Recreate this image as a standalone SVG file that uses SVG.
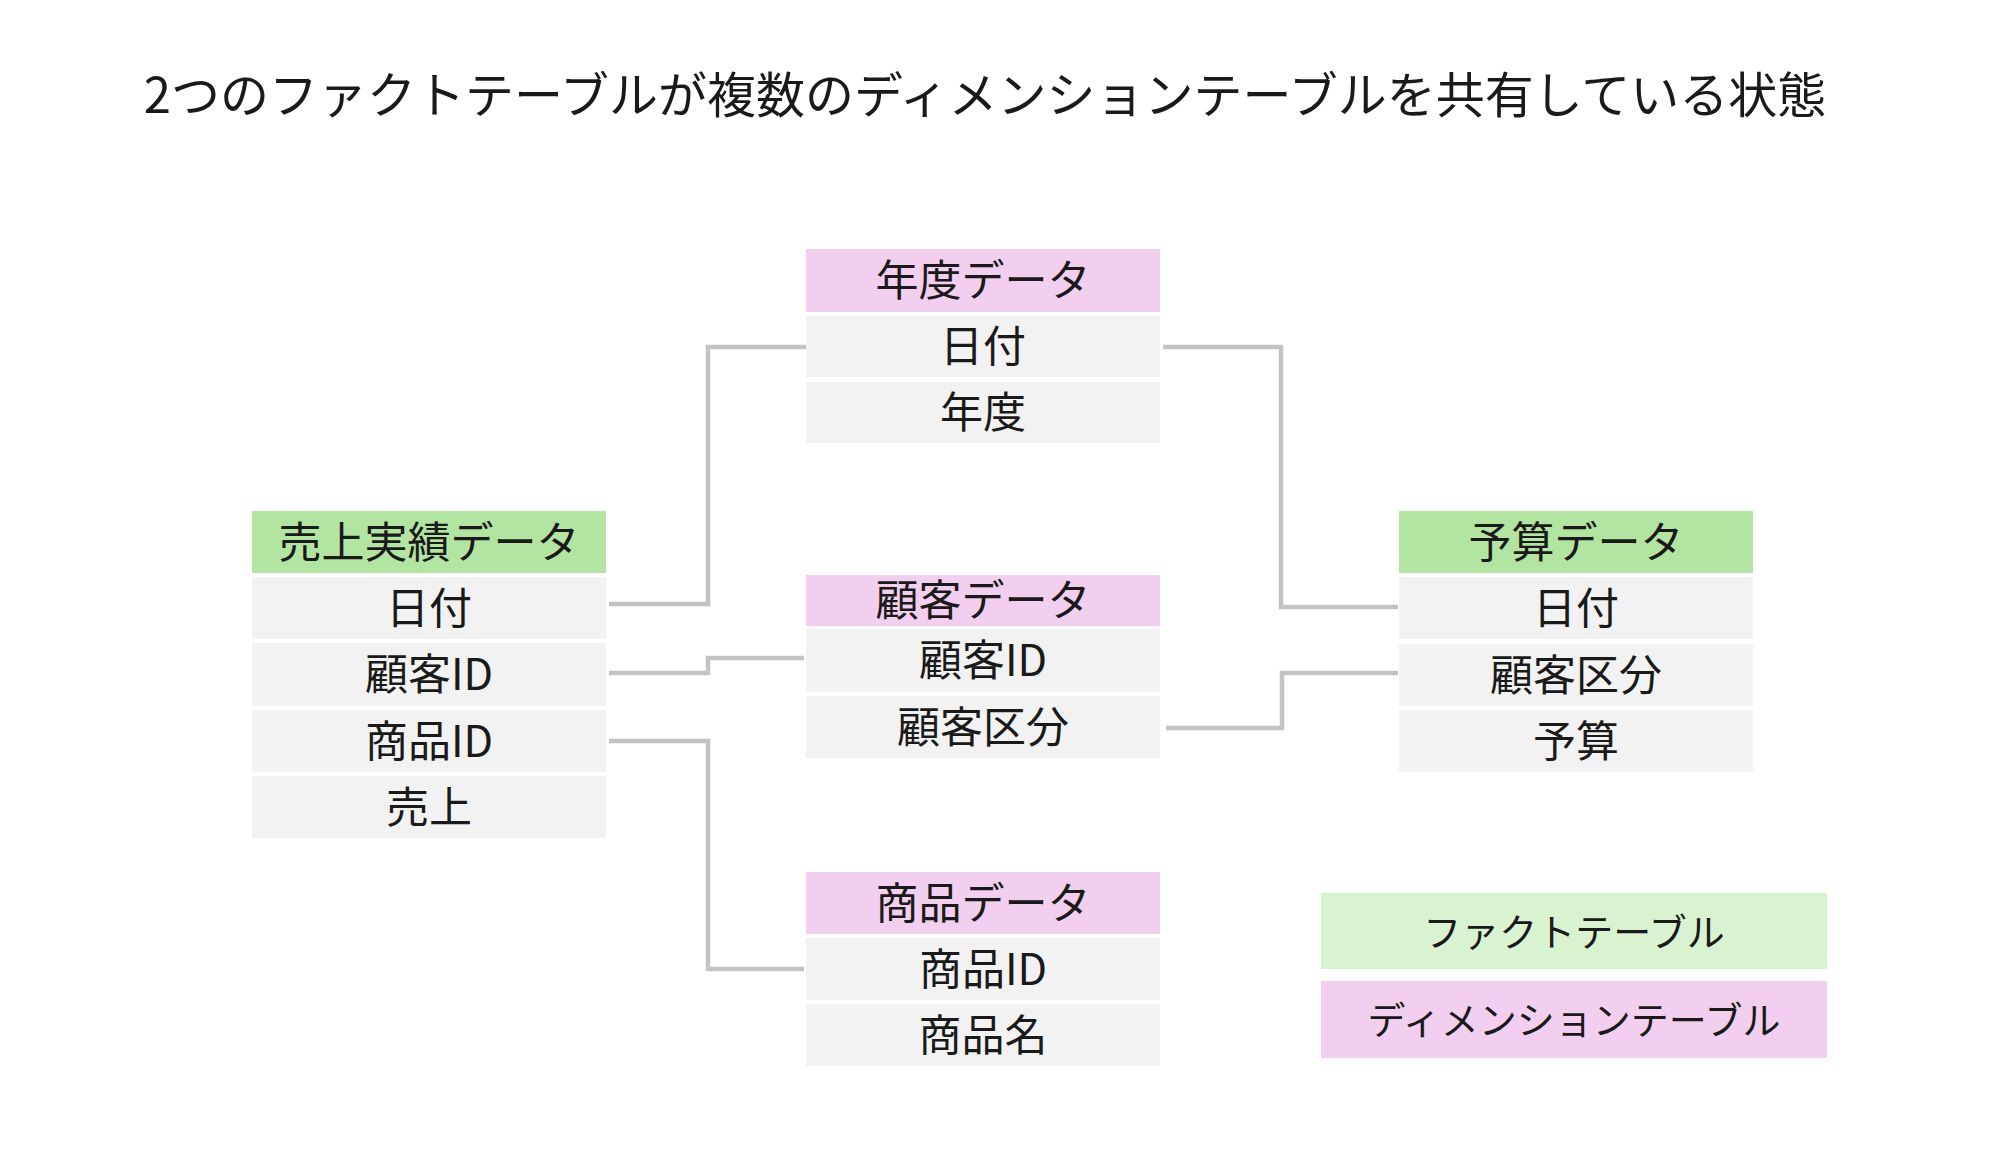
<svg xmlns="http://www.w3.org/2000/svg" width="2000" height="1164" viewBox="0 0 2000 1164">
<style>
text{font-family:"Noto Sans CJK JP","Noto Sans",sans-serif;fill:#1a1a1a;text-anchor:middle;dominant-baseline:central}
.t{font-size:43px}
.title{font-size:49px}
.lg{font-size:38px}
.fact{fill:#b3e5a2}
.dim{fill:#f2cfee}
.row{fill:#f2f2f2}
.lfact{fill:#d9f2d0}
.ldim{fill:#f2cfee}
.conn{fill:none;stroke:#c3c3c3;stroke-width:4.5}
</style>
<rect width="2000" height="1164" fill="#ffffff"/>
<text class="title" x="985" y="91">2つのファクトテーブルが複数のディメンションテーブルを共有している状態</text>

<g id="connectors">
<polyline class="conn" points="609,604 708,604 708,347 807,347"/>
<polyline class="conn" points="609,673 708,673 708,658 804,658"/>
<polyline class="conn" points="609,741 708,741 708,969 804,969"/>
<polyline class="conn" points="1163,347 1281,347 1281,607 1398,607"/>
<polyline class="conn" points="1166,728 1282,728 1282,673 1398,673"/>
</g>

<g id="sales">
<rect class="fact" x="252" y="511" width="354" height="62"/>
<text class="t" x="429" y="539">売上実績データ</text>
<rect class="row" x="252" y="577" width="354" height="62"/>
<text class="t" x="429" y="605">日付</text>
<rect class="row" x="252" y="643" width="354" height="63"/>
<text class="t" x="429" y="671">顧客ID</text>
<rect class="row" x="252" y="710" width="354" height="62"/>
<text class="t" x="429" y="738">商品ID</text>
<rect class="row" x="252" y="776" width="354" height="62"/>
<text class="t" x="429" y="804">売上</text>
</g>

<g id="year">
<rect class="dim" x="806" y="249" width="354" height="63"/>
<text class="t" x="983" y="277">年度データ</text>
<rect class="row" x="806" y="316" width="354" height="61"/>
<text class="t" x="983" y="343">日付</text>
<rect class="row" x="806" y="382" width="354" height="61"/>
<text class="t" x="983" y="409">年度</text>
</g>

<g id="customer">
<rect class="dim" x="806" y="575" width="354" height="51"/>
<text class="t" x="983" y="597">顧客データ</text>
<rect class="row" x="806" y="629" width="354" height="63"/>
<text class="t" x="983" y="657">顧客ID</text>
<rect class="row" x="806" y="696" width="354" height="62"/>
<text class="t" x="983" y="724">顧客区分</text>
</g>

<g id="product">
<rect class="dim" x="806" y="872" width="354" height="62"/>
<text class="t" x="983" y="900">商品データ</text>
<rect class="row" x="806" y="938" width="354" height="62"/>
<text class="t" x="983" y="966">商品ID</text>
<rect class="row" x="806" y="1004" width="354" height="62"/>
<text class="t" x="983" y="1032">商品名</text>
</g>

<g id="budget">
<rect class="fact" x="1399" y="511" width="354" height="62"/>
<text class="t" x="1576" y="539">予算データ</text>
<rect class="row" x="1399" y="577" width="354" height="62"/>
<text class="t" x="1576" y="605">日付</text>
<rect class="row" x="1399" y="644" width="354" height="62"/>
<text class="t" x="1576" y="672">顧客区分</text>
<rect class="row" x="1399" y="710" width="354" height="62"/>
<text class="t" x="1576" y="738">予算</text>
</g>

<g id="legend-fact">
<rect class="lfact" x="1321" y="893" width="506" height="76"/>
<text class="lg" x="1574" y="929">ファクトテーブル</text>
</g>
<g id="legend-dim">
<rect class="ldim" x="1321" y="981" width="506" height="77"/>
<text class="lg" x="1574" y="1017">ディメンションテーブル</text>
</g>
</svg>
